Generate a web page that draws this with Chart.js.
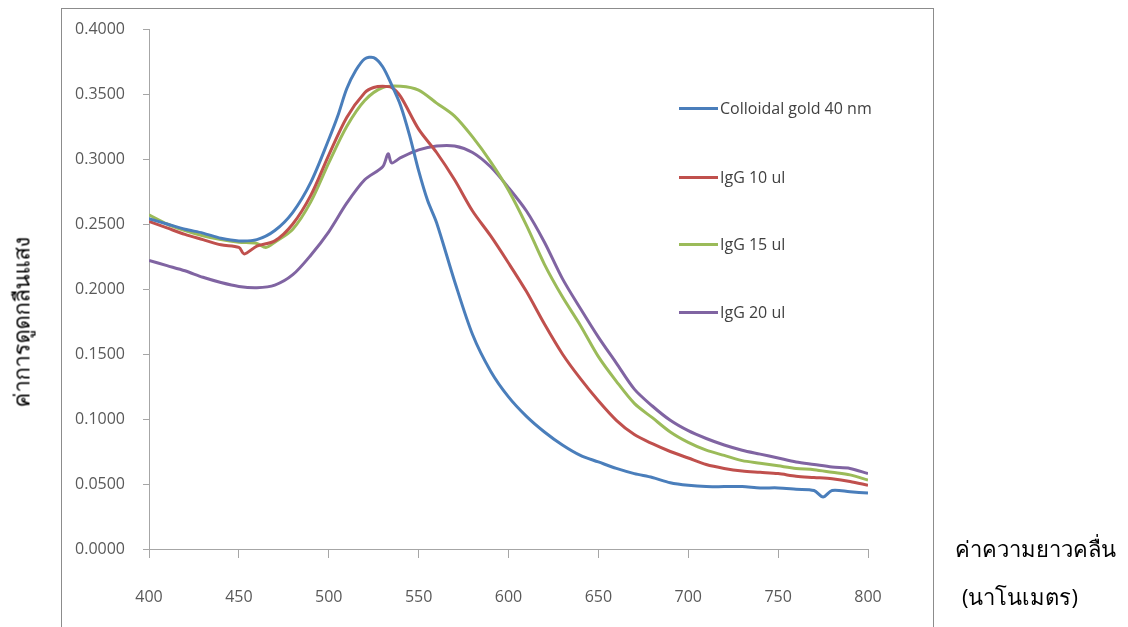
<!DOCTYPE html>
<html>
<head>
<meta charset="utf-8">
<script src="https://cdn.jsdelivr.net/npm/chart.js@4/dist/chart.umd.min.js"></script>
<style>
  html, body { margin: 0; padding: 0; background: #fff; }
  body { width: 1128px; height: 627px; position: relative; overflow: hidden; font-family: "Open Sans", sans-serif; }
  #frame { position: absolute; left: 61px; top: 8px; width: 873px; height: 700px; border: 1px solid #8c8c8c; box-sizing: border-box; }
  #chartWrap { position: absolute; left: 0; top: 0; width: 1128px; height: 627px; }
  .legend { position: absolute; left: 679px; top: 0; color: #404040; font-size: 16px; }
  .legend-item { position: absolute; left: 0; white-space: nowrap; display: flex; align-items: center; }
  .legend-item i { display: inline-block; width: 39px; height: 3px; margin-right: 2px; }
  .ytitle { position: absolute; left: 22px; top: 322px; transform: translate(-50%, -50%) rotate(-90deg); font-size: 22px; white-space: nowrap; color: #000; }
  .xtitle { position: absolute; left: 955px; font-size: 22px; color: #000; white-space: nowrap; }
</style>
</head>
<body>
<div id="frame"></div>
<div id="chartWrap"><canvas id="absChart" width="1128" height="627"></canvas></div>
<div class="legend" id="legendBox"></div>
<div class="ytitle">ค่าการดูดกลืนแสง</div>
<div class="xtitle" style="top:532px;">ค่าความยาวคลื่น</div>
<div class="xtitle" style="top:580px; left:962px;">(นาโนเมตร)</div>

<script>
// --- Data ---

const seriesNames = ['Colloidal gold 40 nm', 'IgG 10 ul', 'IgG 15 ul', 'IgG 20 ul'];
const seriesColors = ['#4a7ebb', '#c0504d', '#9bbb59', '#8064a2'];

const xTicks = [400, 450, 500, 550, 600, 650, 700, 750, 800];
const yTicks = [0, 0.05, 0.1, 0.15, 0.2, 0.25, 0.3, 0.35, 0.4];

const nmGold = [400, 410, 420, 430, 440, 450, 460, 470, 480, 490, 500, 505, 510, 515, 520, 525, 530, 535, 540, 545, 550, 555, 560,
  570, 580, 590, 600, 610, 620, 630, 640, 650, 660, 670, 680, 690, 700, 710, 720, 730, 740, 750, 760, 770, 775, 780, 790, 800];
const absGold = [0.254, 0.250, 0.246, 0.243, 0.239, 0.237, 0.238, 0.245, 0.259, 0.282, 0.315, 0.333, 0.354, 0.368, 0.377, 0.378, 0.371, 0.357, 0.341, 0.318, 0.291, 0.268, 0.251,
  0.206, 0.165, 0.137, 0.117, 0.102, 0.090, 0.080, 0.072, 0.067, 0.062, 0.058, 0.055, 0.051, 0.049, 0.048, 0.048, 0.048, 0.047, 0.047, 0.046, 0.045, 0.040, 0.045, 0.044, 0.043];

const nmIgG10 = [400, 410, 420, 430, 440, 450, 453, 460, 470, 480, 490, 500, 510, 520, 525, 530, 535, 540, 550, 560, 570, 580, 590,
  600, 610, 620, 630, 640, 650, 660, 670, 680, 690, 700, 710, 720, 730, 740, 750, 760, 770, 780, 790, 800];
const absIgG10 = [0.252, 0.247, 0.242, 0.238, 0.234, 0.232, 0.227, 0.233, 0.237, 0.250, 0.272, 0.303, 0.332, 0.351, 0.355, 0.356, 0.355, 0.348, 0.323, 0.305, 0.284, 0.260, 0.241,
  0.220, 0.198, 0.173, 0.150, 0.131, 0.114, 0.099, 0.088, 0.081, 0.075, 0.070, 0.065, 0.062, 0.060, 0.059, 0.058, 0.056, 0.055, 0.054, 0.052, 0.049];

const nmIgG15 = [400, 410, 420, 430, 440, 450, 460, 465, 470, 480, 490, 500, 510, 520, 530, 540, 550, 560, 570, 580, 590,
  600, 610, 620, 630, 640, 650, 660, 670, 680, 690, 700, 710, 720, 730, 740, 750, 760, 770, 780, 790, 800];
const absIgG15 = [0.257, 0.250, 0.245, 0.241, 0.238, 0.236, 0.235, 0.232, 0.236, 0.246, 0.267, 0.297, 0.325, 0.345, 0.355, 0.356, 0.353, 0.343, 0.333, 0.317, 0.298,
  0.276, 0.249, 0.219, 0.194, 0.172, 0.148, 0.129, 0.112, 0.101, 0.090, 0.082, 0.076, 0.072, 0.068, 0.066, 0.064, 0.062, 0.061, 0.059, 0.057, 0.053];

const nmIgG20 = [400, 410, 420, 430, 440, 450, 460, 470, 480, 490, 500, 510, 520, 530, 533, 535, 540, 550, 560, 570, 580, 590,
  600, 610, 620, 630, 640, 650, 660, 670, 680, 690, 700, 710, 720, 730, 740, 750, 760, 770, 780, 790, 800];
const absIgG20 = [0.222, 0.218, 0.214, 0.209, 0.205, 0.202, 0.201, 0.203, 0.211, 0.226, 0.244, 0.266, 0.284, 0.294, 0.304, 0.297, 0.301, 0.307, 0.310, 0.310, 0.305, 0.294,
  0.278, 0.260, 0.236, 0.208, 0.185, 0.163, 0.143, 0.123, 0.110, 0.099, 0.091, 0.085, 0.080, 0.076, 0.073, 0.070, 0.067, 0.065, 0.063, 0.062, 0.058];

const nmLists = [nmGold, nmIgG10, nmIgG15, nmIgG20];
const absLists = [absGold, absIgG10, absIgG15, absIgG20];

// --- Legend (plain html) ---

const legendTops = [108, 177, 244, 312];
document.getElementById('legendBox').innerHTML = seriesNames.map((name, i) => `
    <div class="legend-item" style="top:${legendTops[i] - 11}px;">
      <i style="background:${seriesColors[i]}"></i><span>${name}</span>
    </div>
  `).join('');

// --- Chart ---

const tickFont = { family: "'Open Sans', sans-serif", size: 16 };

const datasets = seriesNames.map((name, i) => ({
  label: name,
  data: nmLists[i].map((nm, k) => ({ x: nm, y: absLists[i][k] })),
  borderColor: seriesColors[i],
  borderWidth: 3,
  pointRadius: 0,
  tension: 0.3,
  fill: false
}));

new Chart(document.getElementById('absChart').getContext('2d'), {
  type: 'line',
  data: { datasets },
  options: {
    responsive: false,
    animation: false,
    layout: { padding: { top: 29, right: 260, left: 0, bottom: 0 } },
    plugins: { legend: { display: false }, tooltip: { enabled: false } },
    scales: {
      x: {
        type: 'linear',
        min: 400,
        max: 800,
        afterBuildTicks: (axis) => { axis.ticks = xTicks.map(v => ({ value: v })); },
        afterFit: (axis) => { axis.height = 78; },
        grid: { drawOnChartArea: false, tickLength: 9, color: '#a6a6a6' },
        border: { color: '#a6a6a6', width: 1 },
        ticks: { color: '#595959', font: tickFont, padding: 30, maxRotation: 0 }
      },
      y: {
        min: 0,
        max: 0.4,
        afterBuildTicks: (axis) => { axis.ticks = yTicks.map(v => ({ value: v })); },
        afterFit: (axis) => { axis.width = 149; },
        grid: { drawOnChartArea: false, tickLength: 6, color: '#a6a6a6' },
        border: { color: '#a6a6a6', width: 1 },
        ticks: { color: '#595959', font: tickFont, padding: 18, callback: (v) => Number(v).toFixed(4) }
      }
    }
  }
});
</script>
</body>
</html>
